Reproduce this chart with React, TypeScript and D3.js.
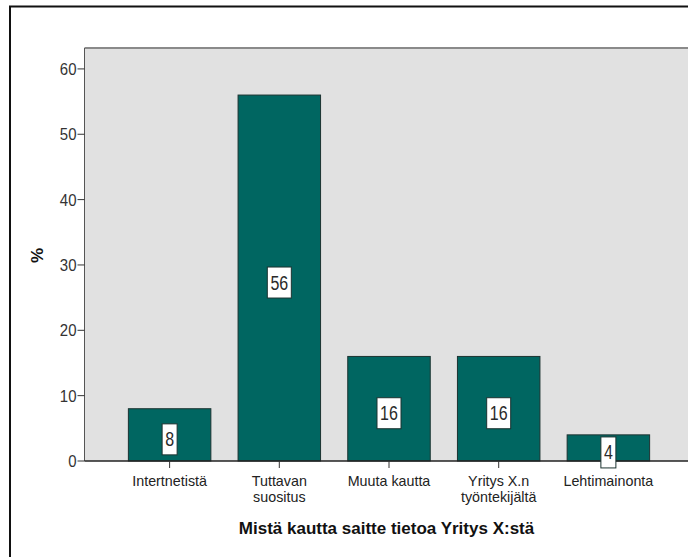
import React from "react";
import * as d3 from "d3";

const categories = [
  ["Intertnetistä"],
  ["Tuttavan", "suositus"],
  ["Muuta kautta"],
  ["Yritys X.n", "työntekijältä"],
  ["Lehtimainonta"],
];
const percents = [8, 56, 16, 16, 4];
const yTicks = [0, 10, 20, 30, 40, 50, 60];
const xTitle = "Mistä kautta saitte tietoa Yritys X:stä";
const yTitle = "%";

const W = 688;
const H = 557;
const FONT = "'Liberation Sans', Arial, sans-serif";

export default function App() {
  const plotLeft = 84.5;
  const plotRight = 693.5;
  const plotTop = 48;
  const plotBottom = 461;

  const keys = categories.map((c) => c.join(" "));
  const x = d3
    .scaleBand<string>()
    .domain(keys)
    .range([plotLeft, plotRight])
    .paddingInner(0.248)
    .paddingOuter(0.4);
  const y = d3.scaleLinear().domain([0, 63.2]).range([plotBottom, plotTop]);

  return (
    <svg
      width={W}
      height={H}
      style={{ position: "fixed", left: 0, top: 0, background: "#fff" }}
      fontFamily={FONT}
    >
      {/* outer frame */}
      <rect x={10} y={6.5} width={W + 20} height={H + 20} fill="#fff" stroke="#111" strokeWidth={2} />

      {/* plot background */}
      <rect x={plotLeft} y={plotTop} width={plotRight - plotLeft} height={plotBottom - plotTop} fill="#e1e1e1" />
      <line x1={plotLeft} x2={plotRight} y1={plotTop} y2={plotTop} stroke="#8a8a8a" strokeWidth={2} />
      <line x1={plotLeft} x2={plotLeft} y1={plotTop} y2={plotBottom} stroke="#555" strokeWidth={1} />

      {/* bars */}
      {percents.map((v, i) => (
        <rect
          key={keys[i]}
          x={x(keys[i])!}
          y={y(v)}
          width={x.bandwidth()}
          height={y(0) - y(v)}
          fill="#006661"
          stroke="#1c3331"
          strokeWidth={1}
        />
      ))}

      {/* x axis */}
      <line x1={plotLeft} x2={plotRight} y1={plotBottom} y2={plotBottom} stroke="#222" strokeWidth={1.3} />
      {keys.map((k, i) => {
        const cx = x(k)! + x.bandwidth() / 2;
        return (
          <g key={k}>
            <line x1={cx} x2={cx} y1={plotBottom} y2={plotBottom + 7} stroke="#333" strokeWidth={1} />
            {categories[i].map((line, j) => (
              <text key={j} x={cx} y={485.5 + j * 16} textAnchor="middle" fontSize={14.3} fill="#222">
                {line}
              </text>
            ))}
          </g>
        );
      })}

      {/* y axis */}
      {yTicks.map((t) => (
        <g key={t}>
          <line x1={plotLeft - 7} x2={plotLeft} y1={y(t)} y2={y(t)} stroke="#333" strokeWidth={1} />
          <text
            x={plotLeft - 8}
            y={y(t)}
            textAnchor="end"
            fontSize={15}
            fill="#333"
            transform={`translate(0 ${y(t)}) scale(1 1.15) translate(0 ${-y(t)})`}
            dy="0.35em"
          >
            {t}
          </text>
        </g>
      ))}

      {/* value labels */}
      {percents.map((v, i) => {
        const cx = x(keys[i])! + x.bandwidth() / 2;
        const cy = (y(v) + y(0)) / 2 + 4.5;
        const label = String(v);
        const bw = label.length * 9 + 6;
        const bh = 31;
        return (
          <g key={"lab" + i}>
            <rect x={cx - bw / 2} y={cy - bh / 2} width={bw} height={bh} fill="#fff" stroke="#1c3331" strokeWidth={1} />
            <text
              x={cx}
              y={cy}
              textAnchor="middle"
              dy="0.36em"
              fontSize={16}
              fill="#2a2a2a"
              transform={`translate(0 ${cy}) scale(1 1.23) translate(0 ${-cy})`}
            >
              {label}
            </text>
          </g>
        );
      })}

      {/* axis titles */}
      <text x={386.5} y={533.5} textAnchor="middle" fontSize={17} fontWeight="bold" fill="#111">
        {xTitle}
      </text>
      <text
        transform="translate(43.3 255.5) rotate(-90)"
        textAnchor="middle"
        fontSize={17}
        fontWeight="bold"
        fill="#111"
      >
        {yTitle}
      </text>
    </svg>
  );
}
